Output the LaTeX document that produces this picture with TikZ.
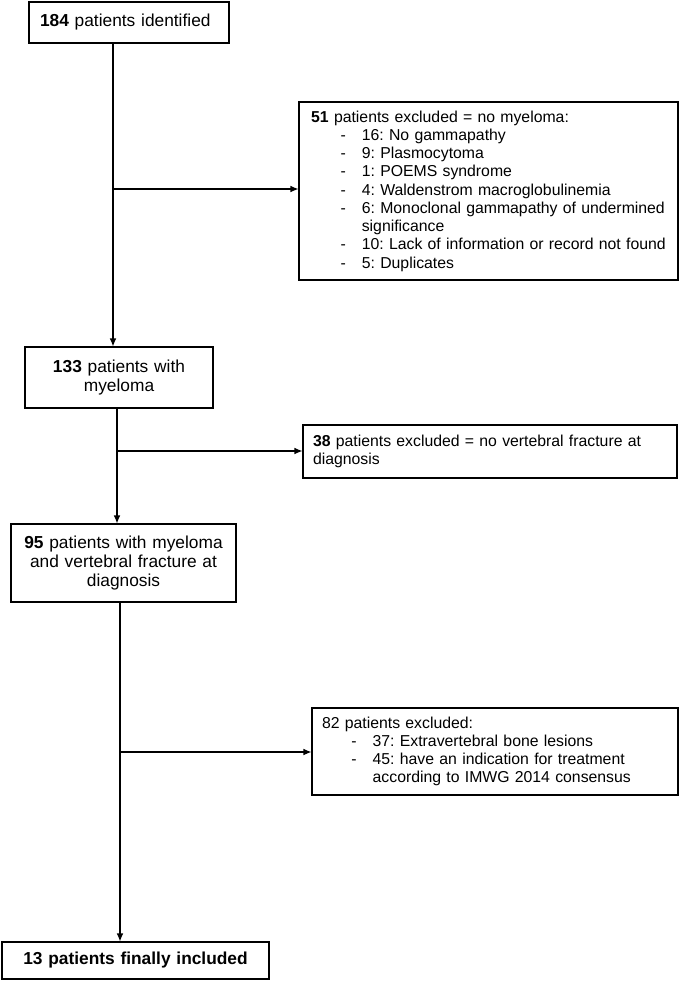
\documentclass[tikz,border=0pt]{standalone}
\usepackage{fontspec}
\setmainfont{Liberation Sans}
\usetikzlibrary{calc,arrows.meta}
\frenchspacing

% list line with a dash, and a continued line
\newcommand{\dashitem}[1]{\mbox{\hspace*{22pt}\makebox[16pt][l]{-}#1}}
\newcommand{\contline}[1]{\mbox{\hspace*{38pt}#1}}

\begin{document}
\begin{tikzpicture}[x=0.75pt, y=-0.75pt, >={Latex[length=6pt,width=5pt]}, line width=0.8pt,
    mainbox/.style={draw, inner sep=0pt, align=center, font=\fontsize{13}{14.5}\selectfont},
    exclbox/.style={draw, inner sep=0pt, align=left, font=\fontsize{11.85}{13.7}\selectfont}]

        \useasboundingbox (0,0) rectangle (679,981);

        % Main column
        \node[mainbox, align=left, minimum width=150pt, minimum height=30.75pt, text width=133.5pt]
            (b1) at (129,22.5) {\textbf{184} patients identified};
        \node[mainbox, minimum width=141pt, minimum height=45.75pt, text width=135pt]
            (b3) at (119,377.5) {\textbf{133} patients with\\myeloma};
        \node[mainbox, minimum width=168.75pt, minimum height=58.5pt, text width=162pt]
            (b5) at (123.5,563) {\textbf{95} patients with myeloma\\and vertebral fracture at\\diagnosis};
        \node[mainbox, minimum width=200.25pt, minimum height=27.75pt, text width=195pt]
            (b7) at (135.5,960.5) {\textbf{13 patients finally included}};

        % Excluded patients
        \node[exclbox, minimum width=284.25pt, minimum height=133.5pt, text width=266pt]
            (b2) at (488.5,191) {\mbox{\textbf{51} patients excluded = no myeloma:}\\
            \dashitem{16: No gammapathy}\\
            \dashitem{9: Plasmocytoma}\\
            \dashitem{1: POEMS syndrome}\\
            \dashitem{4: Waldenstrom macroglobulinemia}\\
            \dashitem{6: Monoclonal gammapathy of undermined}\\
            \contline{significance}\\
            \dashitem{10: Lack of information or record not found}\\
            \dashitem{5: Duplicates}};
        \node[exclbox, minimum width=280.5pt, minimum height=39.75pt, text width=265.5pt]
            (b4) at (490,451.5) {\mbox{\textbf{38} patients excluded = no vertebral fracture at}\\diagnosis};
        \node[exclbox, minimum width=274.5pt, minimum height=65.25pt, text width=259.5pt]
            (b6) at (495,751.5) {\mbox{82 patients excluded:}\\
            \dashitem{37: Extravertebral bone lesions}\\
            \dashitem{45: have an indication for treatment}\\
            \contline{according to IMWG 2014 consensus}};

        % Branch points
        \coordinate (j1) at (113,189);
        \coordinate (j2) at (117,451);
        \coordinate (j3) at (120,752);

        % Arrows
        \draw[->] (b1.south -| j1) -- (b3.north -| j1);
        \draw[->] (j1) -- (j1 -| b2.west);
        \draw[->] (b3.south -| j2) -- (b5.north -| j2);
        \draw[->] (j2) -- (j2 -| b4.west);
        \draw[->] (b5.south -| j3) -- (b7.north -| j3);
        \draw[->] (j3) -- (j3 -| b6.west);

    \end{tikzpicture}
\end{document}
